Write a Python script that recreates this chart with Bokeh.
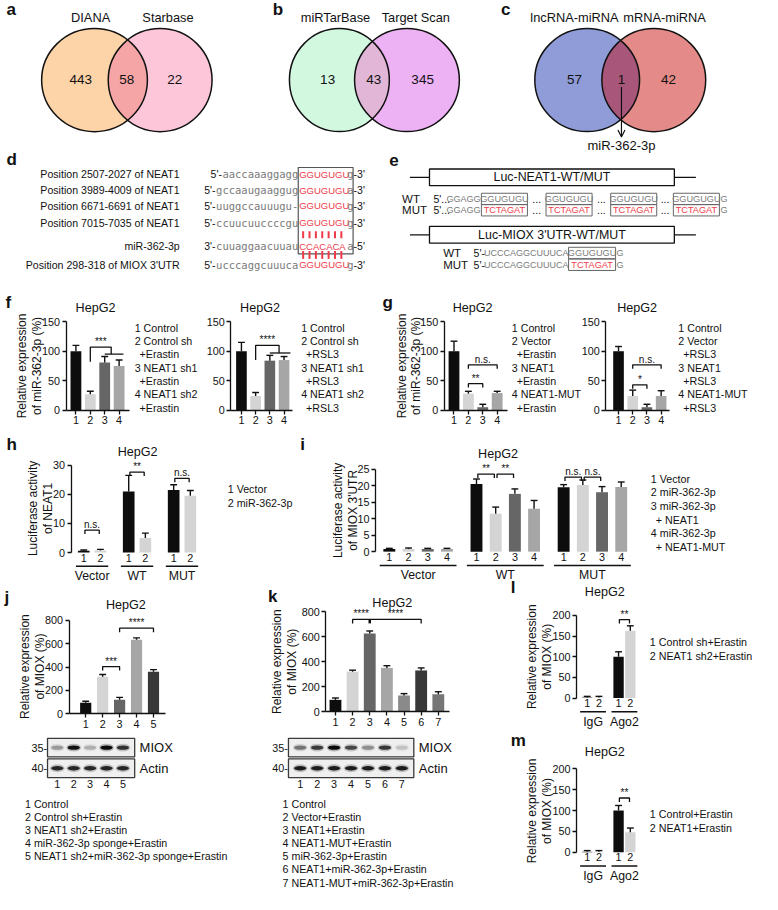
import numpy as np
from bokeh.plotting import figure
from bokeh.models import Range1d, LinearAxis, FixedTicker, Arrow, OpenHead
from bokeh.core.properties import value
from bokeh.embed import file_html
from bokeh.resources import INLINE

# ---------------------------------------------------------------- data
venn_a_names = ["DIANA", "Starbase"]
venn_a_counts = [443, 58, 22]
venn_b_names = ["miRTarBase", "Target Scan"]
venn_b_counts = [13, 43, 345]
venn_c_names = ["lncRNA-miRNA", "mRNA-miRNA"]
venn_c_counts = [57, 1, 42]
venn_c_shared = "miR-362-3p"

d_labels = ["Position 2507-2027 of NEAT1", "Position 3989-4009 of NEAT1",
            "Position 6671-6691 of NEAT1", "Position 7015-7035 of NEAT1",
            "miR-362-3p", "Position 298-318 of MIOX 3'UTR"]
d_prefix = ["5'-", "5'-", "5'-", "5'-", "3'-", "5'-"]
d_seq = ["aaccaaaggagg", "gccaaugaaggug", "uuggccauuugu-", "ccuucuuccccgu",
         "cuuaggaacuuau", "ucccaggcuuuca"]
d_core = ["GGUGUGU", "GGUGUGU", "GGUGUGU", "GGUGUGU", "CCACACA", "GGUGUGU"]
d_tail = ["g", "a", "g", "g", "a", "g"]
d_end = ["-3'", "-3'", "-3'", "-3'", "-5'", "-3'"]

e_box1 = "Luc-NEAT1-WT/MUT"
e_box2 = "Luc-MIOX 3'UTR-WT/MUT"
e_rows = ["WT", "MUT"]
e1_flank = "GGAGG"
e_site_wt = "GGUGUGU"
e_site_mut = "TCTAGAT"
e2_flank = "UCCCAGGCUUUCA"

bar_ticks4 = ["1", "2", "3", "4"]
f1_values = [100, 27, 81, 75]
f1_errors = [10, 5, 10, 10]
f2_values = [100, 24, 84, 85]
f2_errors = [15, 6, 9, 6]
f1_legend = ["1 Control", "2 Control sh", "+Erastin", "3 NEAT1 sh1", "+Erastin", "4 NEAT1 sh2", "+Erastin"]
f2_legend = ["1 Control", "2 Control sh", "+RSL3", "3 NEAT1 sh1", "+RSL3", "4 NEAT1 sh2", "+RSL3"]

g1_values = [100, 28, 5, 29]
g1_errors = [17, 4, 5, 3]
g2_values = [100, 24, 5, 24]
g2_errors = [8, 10, 5, 9]
g1_legend = ["1 Control", "2 Vector", "+Erastin", "3 NEAT1", "+Erastin", "4 NEAT1-MUT", "+Erastin"]
g2_legend = ["1 Control", "2 Vector", "+RSL3", "3 NEAT1", "+RSL3", "4 NEAT1-MUT", "+RSL3"]
g1_sig = [(2, 3, 45, "**"), (2, 4, 77, "n.s.")]
g2_sig = [(2, 3, 43, "*"), (2, 4, 77, "n.s.")]

h_groups = ["Vector", "WT", "MUT"]
h_values = [[0.6, 0.7], [21, 5], [21.5, 19.5]]
h_errors = [[0.3, 0.4], [5.5, 1.7], [1.8, 1.8]]
h_sig = [(0, 1, 2, 7.7, "n.s."), (1, 1, 2, 27.6, "**"), (2, 1, 2, 25.5, "n.s.")]
h_legend = ["1 Vector", "2 miR-362-3p"]

i_groups = ["Vector", "WT", "MUT"]
i_values = [[0.8, 0.8, 0.8, 0.8], [20.5, 11.5, 17.5, 13.0], [19.5, 20.2, 18.0, 19.6]]
i_errors = [[0.2, 0.3, 0.2, 0.2], [1.5, 2.0, 1.5, 2.5], [0.8, 1.5, 1.7, 1.5]]
i_sig = [(1, 1, 2, 23.5, "**"), (1, 2, 3, 23.5, "**"), (2, 1, 2, 22.6, "n.s."), (2, 2, 3, 22.6, "n.s.")]
i_legend = ["1 Vector", "2 miR-362-3p", "3 miR-362-3p", "+ NEAT1", "4 miR-362-3p", "+ NEAT1-MUT"]

j_values = [95, 318, 120, 635, 360]
j_errors = [12, 18, 20, 15, 18]
j_sig = [(2, 3, 404, "***"), (3, 5, 733, "****")]
j_miox = [0.30, 0.90, 0.22, 0.95, 0.75]
j_actin = [0.80, 0.80, 0.80, 0.80, 0.80]
j_legend = ["1 Control", "2 Control sh+Erastin", "3 NEAT1 sh2+Erastin",
            "4 miR-362-3p sponge+Erastin", "5 NEAT1 sh2+miR-362-3p sponge+Erastin"]

k_values = [95, 320, 625, 350, 130, 330, 140]
k_errors = [15, 12, 20, 18, 15, 20, 20]
k_miox = [0.45, 0.70, 0.95, 0.65, 0.35, 0.72, 0.15]
k_actin = [0.85, 0.85, 0.85, 0.85, 0.85, 0.85, 0.85]
k_legend = ["1 Control", "2 Vector+Erastin", "3 NEAT1+Erastin", "4 NEAT1-MUT+Erastin",
            "5 miR-362-3p+Erastin", "6 NEAT1+miR-362-3p+Erastin", "7 NEAT1-MUT+miR-362-3p+Erastin"]

lm_groups = ["IgG", "Ago2"]
l_values = [[1.0, 1.0], [100, 163]]
l_errors = [[3, 3], [12, 12]]
l_legend = ["1 Control sh+Erastin", "2 NEAT1 sh2+Erastin"]
m_values = [[1.0, 1.0], [100, 48]]
m_errors = [[3, 3], [12, 10]]
m_legend = ["1 Control+Erastin", "2 NEAT1+Erastin"]

blot_markers = ["35-", "40-"]
blot_names = ["MIOX", "Actin"]
cell_line = "HepG2"
title_rel = ["Relative expression", "of miR-362-3p (%)"]
title_miox = ["Relative expression", "of MIOX (%)"]
title_luc1 = ["Luciferase activity", "of NEAT1"]
title_luc2 = ["Luciferase activity", "of MIOX 3'UTR"]

# ---------------------------------------------------------------- style
FONT = "Liberation Sans"
MONO = "DejaVu Sans Mono"
BLACK = "#111111"
SEQ_GRAY = "#7a7a7a"
RED = "#ee3b4a"
C_BLACK, C_LIGHT, C_DARK, C_MED, C_DARKER, C_MID, C_MID2 = (
    "#0d0d0d", "#d4d4d4", "#666666", "#a6a6a6", "#383838", "#8a8a8a", "#767676")

W, H = 762, 894
RW, RH = 778, 910
SX = W / RW

p = figure(width=W, height=H, x_range=Range1d(0, RW), y_range=Range1d(RH, 0),
           x_axis_type=None, y_axis_type=None, toolbar_location=None,
           output_backend="svg", min_border=0, outline_line_color=None,
           background_fill_color="white", border_fill_color="white")


def T(x, y, s, size=10.5, color=BLACK, align="left", baseline="middle", font=FONT,
      bold=False, angle=0.0, xr="default", yr="default"):
    if isinstance(s, str):
        x, y, s = [x], [y], [s]
    p.text(x=list(x), y=list(y), text=list(s), text_font=value(font),
           text_font_size=f"{size}px", text_color=color, text_align=align,
           text_baseline=baseline, text_font_style="bold" if bold else "normal",
           angle=angle, x_range_name=xr, y_range_name=yr)


# ---------------------------------------------------------------- panel letters
T([6, 278, 511, 6, 397, 5, 390, 6, 306, 4, 273, 521, 521],
  [9, 9, 9, 162, 162, 307, 307, 452, 452, 608, 607, 597, 753],
  list("abcdefghijklm"), size=17, bold=True)


# ---------------------------------------------------------------- Venn
def venn(cx1, cx2, cy, w1, w2, h, c1, c2, c12, names, counts, label_x, count_x):
    p.ellipse(x=[cx1], y=[cy], width=w1, height=h, fill_color=c1, line_color=None)
    p.ellipse(x=[cx2], y=[cy], width=w2, height=h, fill_color=c2, line_color=None)
    t = np.linspace(0, 2 * np.pi, 1441)
    ax, ay = cx1 + w1 / 2 * np.cos(t), cy + h / 2 * np.sin(t)
    bx, by = cx2 + w2 / 2 * np.cos(t), cy + h / 2 * np.sin(t)
    in_b = ((ax - cx2) / (w2 / 2)) ** 2 + ((ay - cy) / (h / 2)) ** 2 <= 1
    in_a = ((bx - cx1) / (w1 / 2)) ** 2 + ((by - cy) / (h / 2)) ** 2 <= 1
    lx = np.concatenate([ax[in_b], bx[in_a]])
    ly = np.concatenate([ay[in_b], by[in_a]])
    order = np.argsort(np.arctan2(ly - ly.mean(), lx - lx.mean()))
    p.patch(lx[order], ly[order], fill_color=c12, line_color=None)
    p.ellipse(x=[cx1, cx2], y=[cy, cy], width=[w1, w2], height=[h, h],
              fill_color=None, line_color=BLACK, line_width=1.5)
    T(label_x, [17, 17], names, size=12.8, align="center")
    T(count_x, [80, 80, 80], [str(c) for c in counts], size=13.5, align="center")


venn(96, 163, 81, 108, 106, 105, "#fdd3a8", "#fdc7d9", "#f6a5a6",
     venn_a_names, venn_a_counts, [92, 171], [82, 129, 178])
venn(346, 415, 81, 102, 107, 105, "#d3f8e0", "#edb2f4", "#e1b6d6",
     venn_b_names, venn_b_counts, [342, 424], [334, 381, 431])
venn(599, 667, 81, 107, 106, 105, "#909cd8", "#e48a88", "#a8567a",
     venn_c_names, venn_c_counts, [586, 678], [586, 634, 682])
p.add_layout(Arrow(end=OpenHead(size=7, line_width=1.2, line_color=BLACK),
                   x_start=634, y_start=88, x_end=634, y_end=139,
                   line_width=1.2, line_color=BLACK))
T(634, 148, venn_c_shared, size=13, align="center")

# ---------------------------------------------------------------- panel d
d_y = [177, 193, 209, 226, 250, 269]
BOX_L = 304
CW = 0.602 * 10.5 / SX
T([183] * 6, d_y, d_labels, size=10.6, align="right")
T([BOX_L] * 6, d_y, d_seq, size=10.5, color=SEQ_GRAY, align="right", font=MONO)
T([BOX_L - len(s) * CW - 0.5 for s in d_seq], d_y, d_prefix, size=10.5, align="right")
T([BOX_L + 1] * 6, d_y, d_core, size=9.5, color=RED)
T([354] * 6, d_y, d_tail, size=10.5, color=SEQ_GRAY, font=MONO)
T([354 + CW] * 6, d_y, d_end, size=10.5)
p.quad(left=[BOX_L], right=[360], top=[170], bottom=[258], fill_color=None,
       line_color="#555555", line_width=1.2)
tick_x = [309 + 6.5 * n for n in range(7)]
p.segment(x0=tick_x + tick_x, y0=[235] * 7 + [255] * 7, x1=tick_x + tick_x,
          y1=[242] * 7 + [263] * 7, line_color=RED, line_width=2)

# ---------------------------------------------------------------- panel e
def construct(yc, label):
    p.quad(left=[438], right=[688], top=[yc - 8.5], bottom=[yc + 8.5], fill_color="white",
           line_color=BLACK, line_width=1.3)
    p.segment(x0=[418, 688], y0=[yc, yc], x1=[438, 710], y1=[yc, yc], line_color=BLACK, line_width=1.3)
    T(563, yc, label, size=12.4, align="center")


construct(180, e_box1)
construct(238.5, e_box2)
e1_y = [202, 213.5]
site_x = [491, 557, 623, 687]
SW = 47
for r, (yy, name) in enumerate(zip(e1_y, e_rows)):
    T(410, yy, name, size=11.5)
    T(442, yy, "5'...", size=10.5)
    T(490, yy, e1_flank, size=9, color=SEQ_GRAY, align="right")
    site = e_site_wt if r == 0 else e_site_mut
    p.quad(left=site_x, right=[x + SW for x in site_x], top=[yy - 5.8] * 4, bottom=[yy + 5.8] * 4,
           fill_color=None, line_color="#666666", line_width=1)
    T([x + SW / 2 for x in site_x], [yy] * 4, [site] * 4, size=9.2,
      color=SEQ_GRAY if r == 0 else RED, align="center")
    T([(site_x[n] + SW + site_x[n + 1]) / 2 for n in range(3)], [yy] * 3, ["..."] * 3,
      size=10.5, align="center")
    T(site_x[-1] + SW + 1, yy, "G", size=9, color=SEQ_GRAY)

e2_y = [257, 269]
for r, (yy, name) in enumerate(zip(e2_y, e_rows)):
    T(452, yy, name, size=11.5)
    T(483, yy, "5'-", size=10.5)
    T(580, yy, e2_flank, size=9, color=SEQ_GRAY, align="right")
    site = e_site_wt if r == 0 else e_site_mut
    p.quad(left=[580], right=[628], top=[yy - 5.8], bottom=[yy + 5.8], fill_color=None,
           line_color="#666666", line_width=1)
    T(604, yy, site, size=9.2, color=SEQ_GRAY if r == 0 else RED, align="center")
    T(629, yy, "G", size=9, color=SEQ_GRAY)

# ---------------------------------------------------------------- chart machinery
CH = {}


def setup(name, px1, step, y0, y1, vtop):
    k = (y0 - y1) / vtop
    p.extra_x_ranges[name] = Range1d(1 - px1 / step, 1 + (RW - px1) / step)
    p.extra_y_ranges[name] = Range1d((y0 - RH) / k, y0 / k)
    CH[name] = dict(px1=px1, step=step, y0=y0, k=k)


def slot(name, px):
    c = CH[name]
    return 1 + (px - c["px1"]) / c["step"]


def yaxis(name, ax_x, ticks):
    ax = LinearAxis(y_range_name=name, fixed_location=ax_x, bounds=(ticks[0], ticks[-1]),
                    ticker=FixedTicker(ticks=ticks), axis_line_width=1.3, axis_line_color=BLACK,
                    major_tick_line_width=1.3, major_tick_line_color=BLACK,
                    major_tick_in=0, major_tick_out=4, minor_tick_in=0, minor_tick_out=0,
                    major_label_standoff=2, major_label_text_font=FONT,
                    major_label_text_font_size="10.8px", major_label_text_color=BLACK)
    p.add_layout(ax, "left")


def xaxis(name, ticks, labels, bounds, show_line=True):
    ax = LinearAxis(x_range_name=name, fixed_location=CH[name]["y0"], bounds=bounds,
                    ticker=FixedTicker(ticks=ticks),
                    major_label_overrides={t: l for t, l in zip(ticks, labels)},
                    axis_line_width=1.3, axis_line_color=BLACK if show_line else None,
                    major_tick_line_width=1.3,
                    major_tick_line_color=BLACK if show_line else None,
                    major_tick_in=0, major_tick_out=4 if show_line else 0,
                    minor_tick_in=0, minor_tick_out=0,
                    major_label_standoff=2 if show_line else 1, major_label_text_font=FONT,
                    major_label_text_font_size="10.8px", major_label_text_color=BLACK)
    p.add_layout(ax, "below")


def bars(name, xs, vals, errs, colors, bw, cap_px=3.5):
    c = CH[name]
    p.vbar(x=xs, top=vals, bottom=0, width=bw, fill_color=colors, line_color=None,
           x_range_name=name, y_range_name=name)
    tops = [v + e for v, e in zip(vals, errs)]
    cap = cap_px / c["step"]
    p.segment(x0=xs, y0=vals, x1=xs, y1=tops, line_color=BLACK, line_width=1.4,
              x_range_name=name, y_range_name=name)
    p.segment(x0=[x - cap for x in xs], y0=tops, x1=[x + cap for x in xs], y1=tops,
              line_color=BLACK, line_width=1.4, x_range_name=name, y_range_name=name)


def sig(name, xa, xb, level, label, leg_px=4, size=10):
    leg = leg_px / CH[name]["k"]
    p.multi_line(xs=[[xa, xa, xb, xb]], ys=[[level - leg, level, level, level - leg]],
                 line_color=BLACK, line_width=1.3, x_range_name=name, y_range_name=name)
    T((xa + xb) / 2, level, label, size=size, align="center", baseline="bottom", xr=name, yr=name)


def legend(x, y_first, dy, items, size=10.7, indent=5):
    xs = [x + (indent if it.startswith("+") else 0) for it in items]
    ys = [y_first + n * dy for n in range(len(items))]
    T(xs, ys, items, size=size)


def ytitle(x1, x2, yc, lines, size=12):
    T([x1, x2], [yc, yc], lines, size=size, align="center", angle=np.pi / 2)


def group_slots(groups_vals, gap):
    n = len(groups_vals[0])
    xs, labels, spans = [], [], []
    for g, vals in enumerate(groups_vals):
        first = round(1 + g * (n + gap), 3)
        for b in range(len(vals)):
            xs.append(round(first + b, 3))
            labels.append(str(b + 1))
        spans.append((first, round(first + len(vals) - 1, 3)))
    return xs, labels, spans


def grouped_chart(name, groups, values, errors, colors, gap, bw, sigs, ticks_y, ax_x, ext=0.5):
    xs, labels, spans = group_slots(values, gap)
    flat_v = [v for g in values for v in g]
    flat_e = [e for g in errors for e in g]
    ncol = len(values[0])
    bars(name, xs, flat_v, flat_e, colors[:ncol] * len(values), bw)
    yaxis(name, ax_x, ticks_y)
    xaxis(name, xs, labels, (xs[0] - 0.5, xs[-1] + 0.5), show_line=False)
    y0 = CH[name]["y0"]
    p.segment(x0=[s[0] - ext for s in spans], x1=[s[1] + ext for s in spans],
              y0=[y0 + 14] * len(spans), y1=[y0 + 14] * len(spans), line_color=BLACK,
              line_width=1.5, x_range_name=name)
    T([(s[0] + s[1]) / 2 for s in spans], [y0 + 24] * len(spans), groups, size=12.3,
      align="center", xr=name)
    for g, a, b, level, label in sigs:
        first = spans[g][0]
        shrink = 0.07
        sig(name, first + a - 1 + shrink, first + b - 1 - shrink, level, label)
    return spans


# ---------------------------------------------------------------- panels f, g
gray4 = [C_BLACK, C_LIGHT, C_DARK, C_MED]
for name, px1, step, ax_x, x_end, vals, errs in [
        ("f1", 77, 14.7, 67, 132, f1_values, f1_errors),
        ("f2", 246, 14.5, 235, 298, f2_values, f2_errors),
        ("g1", 463, 14.7, 453, 518, g1_values, g1_errors),
        ("g2", 631, 14.5, 618, 683, g2_values, g2_errors)]:
    setup(name, px1, step, 417, 327, 150)
    bars(name, [1, 2, 3, 4], vals, errs, gray4, 0.75)
    yaxis(name, ax_x, [0, 50, 100, 150])
    xaxis(name, [1, 2, 3, 4], bar_ticks4, (slot(name, ax_x), slot(name, x_end)))

# group brackets (2 vs 3-4) in f
for name, level, level2, mid, lo0, lo1, label in [("f1", 107, 95, 3.45, 3.0, 4.3, "***"),
                                                   ("f2", 110, 97, 3.65, 3.0, 4.45, "****")]:
    p.multi_line(xs=[[2, 2, mid, mid], [lo0, lo1]], ys=[[level - 25, level, level, level2], [level2, level2]],
                 line_color=BLACK, line_width=1.3, x_range_name=name, y_range_name=name)
    T((2 + mid) / 2, level, label, size=10, align="center", baseline="bottom", xr=name, yr=name)
for name, sigs in [("g1", g1_sig), ("g2", g2_sig)]:
    for a, b, level, label in sigs:
        sig(name, a, b, level, label)

T([97, 265, 482, 650], [313] * 4, [cell_line] * 4, size=12.6, align="center")
ytitle(22, 37, 372, title_rel)
ytitle(410, 424, 372, title_rel)
legend(137, 333, 13.6, f1_legend)
legend(307, 333, 13.6, f2_legend)
legend(522, 333, 13.6, g1_legend)
legend(692, 333, 13.6, g2_legend)

# ---------------------------------------------------------------- panel h
setup("h", 85, 17, 562, 473, 30)
grouped_chart("h", h_groups, h_values, h_errors, [C_BLACK, C_LIGHT], 0.7, 0.7, h_sig,
              [0, 10, 20, 30], 72, ext=0.47)
T(140, 460, cell_line, size=12.6, align="center")
ytitle(33, 48, 517, title_luc1)
legend(232, 497, 14.5, h_legend)

# ---------------------------------------------------------------- panel i
setup("i", 397, 19.6, 561, 477, 25)
grouped_chart("i", i_groups, i_values, i_errors, gray4, 0.54, 0.62, i_sig,
              [0, 5, 10, 15, 20, 25], 383, ext=0.5)
T(508, 462, cell_line, size=12.6, align="center")
ytitle(345, 360, 519, title_luc2)
legend(664, 487, 13.8, i_legend)


# ---------------------------------------------------------------- panels j, k
def blot(lane_first, lane_step, box_x0, box_x1, rows, n):
    lanes = [lane_first + q * lane_step for q in range(n)]
    for yc, intens, marker, bname in rows:
        p.quad(left=[box_x0], right=[box_x1], top=[yc - 9.5], bottom=[yc + 9.5],
               fill_color="#efefef", line_color="#3a3a3a", line_width=1.3)
        p.ellipse(x=lanes, y=[yc] * n, width=15, height=8, fill_color="#000000",
                  fill_alpha=[0.25 * v for v in intens], line_color=None)
        p.ellipse(x=lanes, y=[yc] * n, width=12.5, height=4.5, fill_color="#000000",
                  fill_alpha=list(intens), line_color=None)
        T(box_x0 - 0.5, yc, marker, size=10.8, align="right")
        T(box_x1 + 5, yc, bname, size=13)
    T(lanes, [rows[-1][0] + 16] * n, [str(q + 1) for q in range(n)], size=10.8, align="center")


setup("j", 87, 17.3, 726, 631, 800)
bars("j", [1, 2, 3, 4, 5], j_values, j_errors, [C_BLACK, C_LIGHT, C_DARK, C_MED, C_DARKER], 0.66)
yaxis("j", 70, [0, 200, 400, 600, 800])
xaxis("j", [1, 2, 3, 4, 5], ["1", "2", "3", "4", "5"], (slot("j", 70), slot("j", 168)))
for a, b, level, label in j_sig:
    sig("j", a, b, level, label)
T(128, 615, cell_line, size=12.6, align="center")
ytitle(25, 40, 678, title_miox)
blot(58, 16.75, 48, 137, [(760.5, j_miox, blot_markers[0], blot_names[0]),
                          (781.5, j_actin, blot_markers[1], blot_names[1])], 5)
legend(25, 818, 13.3, j_legend)

setup("k", 342, 17.5, 724, 622, 800)
bars("k", [1, 2, 3, 4, 5, 6, 7], k_values, k_errors,
     [C_BLACK, C_LIGHT, C_DARK, C_MED, C_MID, C_DARKER, C_MID2], 0.69)
yaxis("k", 332, [0, 200, 400, 600, 800])
xaxis("k", [1, 2, 3, 4, 5, 6, 7], [str(q) for q in range(1, 8)], (slot("k", 332), slot("k", 458)))
legk = 4 / CH["k"]["k"]
p.multi_line(xs=[[2, 2, 6, 6], [3, 3]], ys=[[737 - legk, 737, 737, 737 - legk], [737, 737 - legk]],
             line_color=BLACK, line_width=[1.3, 2.5], x_range_name="k", y_range_name="k")
T([2.5, 4.5], [737, 737], ["****", "****"], size=10, align="center", baseline="bottom", xr="k", yr="k")
T(400, 613, cell_line, size=12.6, align="center")
ytitle(282, 298, 673, title_miox)
blot(306, 17.3, 294, 422, [(760.5, k_miox, blot_markers[0], blot_names[0]),
                           (781.5, k_actin, blot_markers[1], blot_names[1])], 7)
legend(288, 818, 13.3, k_legend)

# ---------------------------------------------------------------- panels l, m
for name, y0, y1, vals, errs, sigv, ty, tyc, leg, legy in [
        ("l", 710, 626, l_values, l_errors, 190, 602, 668, l_legend, 653),
        ("m", 867, 782, m_values, m_errors, 130, 765, 825, m_legend, 828)]:
    setup(name, 599, 12, y0, y1, 200)
    grouped_chart(name, lm_groups, vals, errs, [C_BLACK, C_LIGHT], 0.67, 0.88,
                  [(1, 1, 2, sigv, "**")], [0, 50, 100, 150, 200], 588, ext=0.6)
    T(617, ty, cell_line, size=12.6, align="center")
    ytitle(543, 558, tyc, title_miox)
    legend(663, legy, 14, leg)

open("out.html", "w").write(file_html(p, INLINE))
